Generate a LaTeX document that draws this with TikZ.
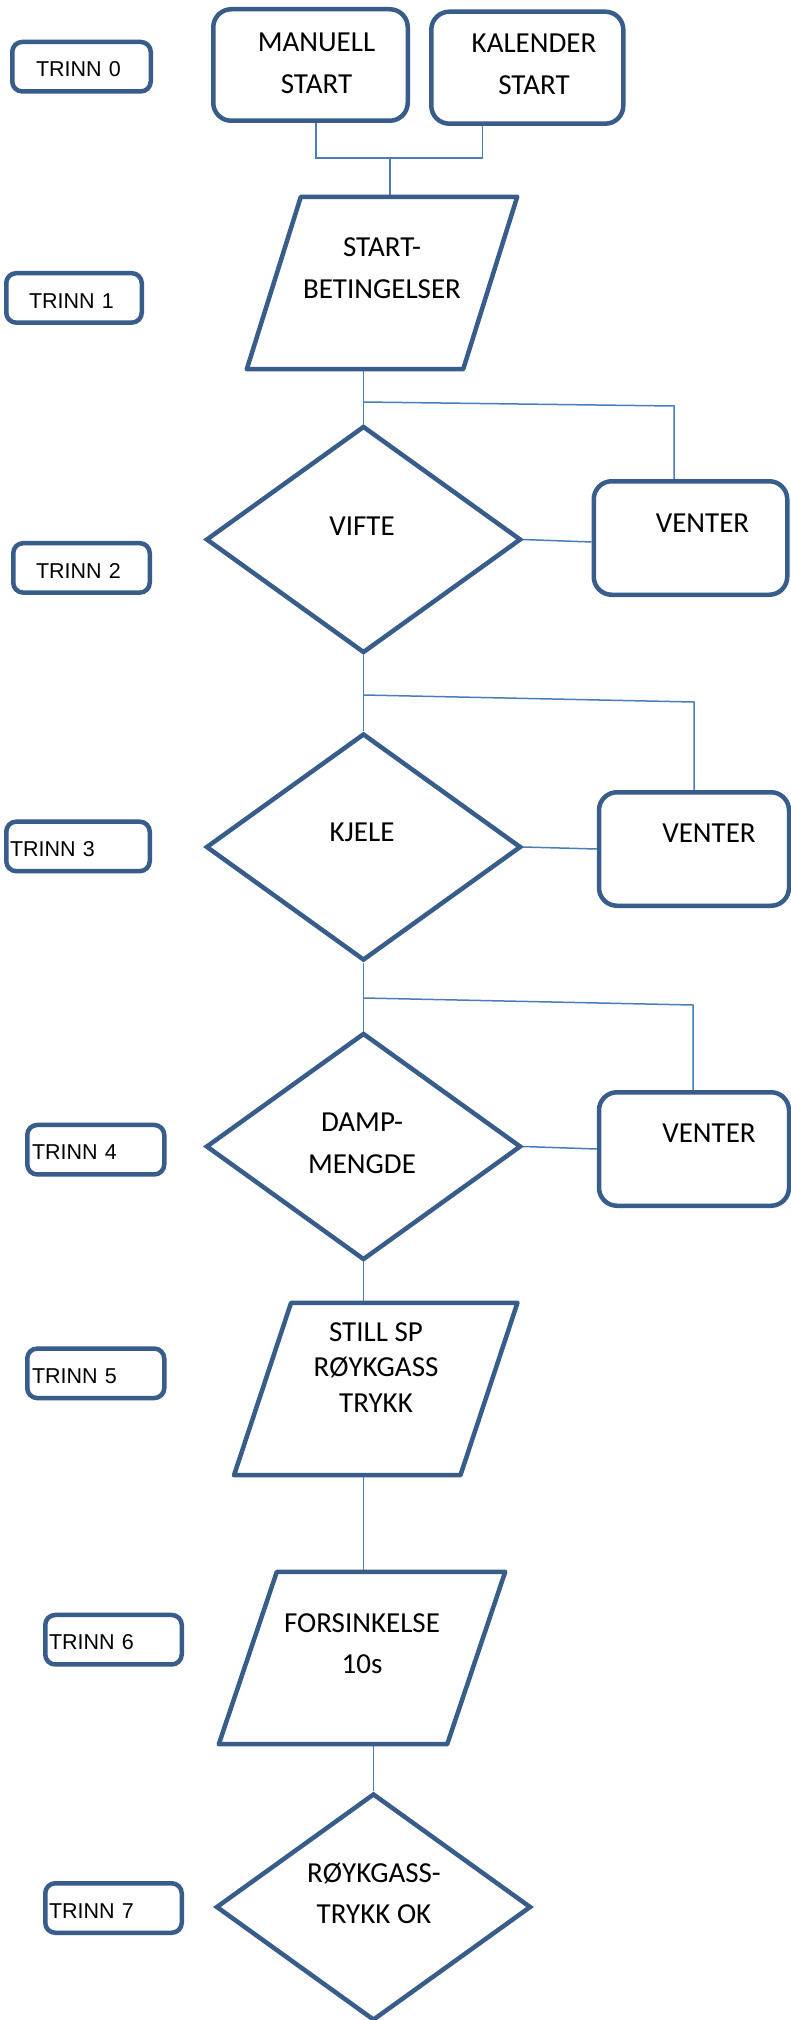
\documentclass[tikz,border=0pt]{standalone}
\usepackage{fontspec}
\setmainfont{Carlito}
\newfontfamily\trinnfont{Liberation Sans}
\usepackage{tikz}
\usetikzlibrary{shapes.geometric,backgrounds}
\definecolor{shapeblue}{HTML}{385D8A}
\definecolor{linkblue}{HTML}{4A7EBB}
\definecolor{ink}{HTML}{000000}
\tikzset{
  box/.style={draw=shapeblue, line width=4.5pt, rounded corners=18pt, inner sep=0pt},
  trinn/.style={draw=shapeblue, line width=4.5pt, rounded corners=10pt, inner ysep=0pt, minimum height=49.5pt, align=left, text height=20.5pt, text depth=0pt, text=ink, font=\trinnfont\fontsize{21.5}{26}\selectfont},
  dia/.style={diamond, draw=shapeblue, line width=4.5pt, inner sep=0pt, minimum width=315pt, minimum height=227pt},
  para/.style={inner sep=0pt, minimum height=172pt},
  pline/.style={draw=shapeblue, line width=4.5pt, line join=round},
  txt/.style={align=center, inner sep=0pt, text=ink, font=\fontsize{29}{42}\selectfont},
  link/.style={draw=linkblue, line width=1.5pt},
}
\begin{document}
\begin{tikzpicture}[x=1pt, y=-1pt]
\useasboundingbox (0,0) rectangle (791,2020);

\node[trinn, inner xsep=23.75pt, text width=91pt] (trinn0) at (81.5,66.7) {TRINN 0};
\node[trinn, inner xsep=22.75pt, text width=90pt] (trinn1) at (74,297.9) {TRINN 1};
\node[trinn, inner xsep=22.75pt, text width=91pt] (trinn2) at (81.5,567.9) {TRINN 2};
\node[trinn, inner xsep=3.75pt, text width=136pt] (trinn3) at (78,846.4) {TRINN 3};
\node[trinn, inner xsep=4.75pt, text width=127.5pt] (trinn4) at (95.75,1149.7) {TRINN 4};
\node[trinn, inner xsep=4.75pt, text width=127.5pt] (trinn5) at (95.75,1373.3) {TRINN 5};
\node[trinn, inner xsep=3.75pt, text width=129pt] (trinn6) at (113.5,1639.7) {TRINN 6};
\node[trinn, inner xsep=3.75pt, text width=129pt] (trinn7) at (113.5,1908) {TRINN 7};

\node[box, minimum width=194.5pt, minimum height=111.5pt] (manuell) at (310.5,65) {};
\node[box, minimum width=192pt, minimum height=112pt] (kalender) at (527.3,67.7) {};
\node[txt] (manuelltxt) at (316.5,63.2) {MANUELL\\START};
\node[txt] (kalendertxt) at (534,64.5) {KALENDER\\START};

\node[para, minimum width=216pt] (startbet) at (382,283) {};
\draw[pline] ([xshift=27pt]startbet.north west) -- ([xshift=27pt]startbet.north east)
  -- ([xshift=-27pt]startbet.south east) -- ([xshift=-27pt]startbet.south west) -- cycle;
\node[txt] (startbettxt) at (382,268) {START-\\BETINGELSER};

\node[dia] (vifte) at (363.5,539.5) {};
\node[txt] (viftetxt) at (362,526) {VIFTE};
\node[box, minimum width=193.5pt, minimum height=113.5pt] (venterA) at (690.5,538) {};
\node[txt] (venterAtxt) at (702.5,523) {VENTER};

\node[dia] (kjele) at (363.5,847) {};
\node[txt] (kjeletxt) at (362,832) {KJELE};
\node[box, minimum width=190pt, minimum height=113.5pt] (venterB) at (694,849) {};
\node[txt] (venterBtxt) at (709,833) {VENTER};

\node[dia] (damp) at (363.5,1146.5) {};
\node[txt] (damptxt) at (362,1143) {DAMP-\\MENGDE};
\node[box, minimum width=190pt, minimum height=113.5pt] (venterC) at (694,1149) {};
\node[txt] (venterCtxt) at (709,1133) {VENTER};

\node[para, minimum width=226pt] (stillsp) at (375.75,1389) {};
\draw[pline] ([xshift=28.5pt]stillsp.north west) -- ([xshift=28.5pt]stillsp.north east)
  -- ([xshift=-28.5pt]stillsp.south east) -- ([xshift=-28.5pt]stillsp.south west) -- cycle;
\node[txt, font=\fontsize{29}{35.5}\selectfont] (stillsptxt) at (376,1367.5) {STILL SP\\RØYKGASS\\TRYKK};

\node[para, minimum width=228pt] (forsink) at (362,1658) {};
\draw[pline] ([xshift=29pt]forsink.north west) -- ([xshift=29pt]forsink.north east)
  -- ([xshift=-29pt]forsink.south east) -- ([xshift=-29pt]forsink.south west) -- cycle;
\node[txt, font=\fontsize{29}{41}\selectfont] (forsinktxt) at (362,1643.5) {FORSINKELSE\\10s};

\node[dia] (royk) at (373.5,1907) {};
\node[txt, font=\fontsize{29}{41}\selectfont] (royktxt) at (374,1893.5) {RØYKGASS-\\TRYKK OK};

\coordinate (join0) at (390,158);
\coordinate (join1) at (363.5,402);
\coordinate (turn1) at (674,406);
\coordinate (join2) at (363.5,695);
\coordinate (turn2) at (694,702);
\coordinate (join3) at (363.5,998);
\coordinate (turn3) at (693,1005);

\begin{scope}[on background layer]
\fill[white] (0,0) rectangle (791,2020);
\draw[link] ([xshift=5.5pt]manuell.south) |- (join0) -| ([xshift=-45pt]kalender.south);
\draw[link] (join0) -- (join0 |- startbet.north);
\draw[link] (vifte.north |- startbet.south) -- (vifte.north);
\draw[link] (join1) -- (turn1) -- (turn1 |- venterA.north);
\draw[link] (vifte.east) -- ([yshift=-4pt]venterA.west);
\draw[link] (vifte.south) -- (kjele.north);
\draw[link] (join2) -- (turn2) -- (turn2 |- venterB.north);
\draw[link] (kjele.east) -- (venterB.west);
\draw[link] (kjele.south) -- (damp.north);
\draw[link] (join3) -- (turn3) -- (turn3 |- venterC.north);
\draw[link] (damp.east) -- (venterC.west);
\draw[link] (damp.south) -- (damp.south |- stillsp.north);
\draw[link] (damp.south |- stillsp.south) -- (damp.south |- forsink.north);
\draw[link] (royk.north |- forsink.south) -- (royk.north);
\end{scope}
\end{tikzpicture}
\end{document}
